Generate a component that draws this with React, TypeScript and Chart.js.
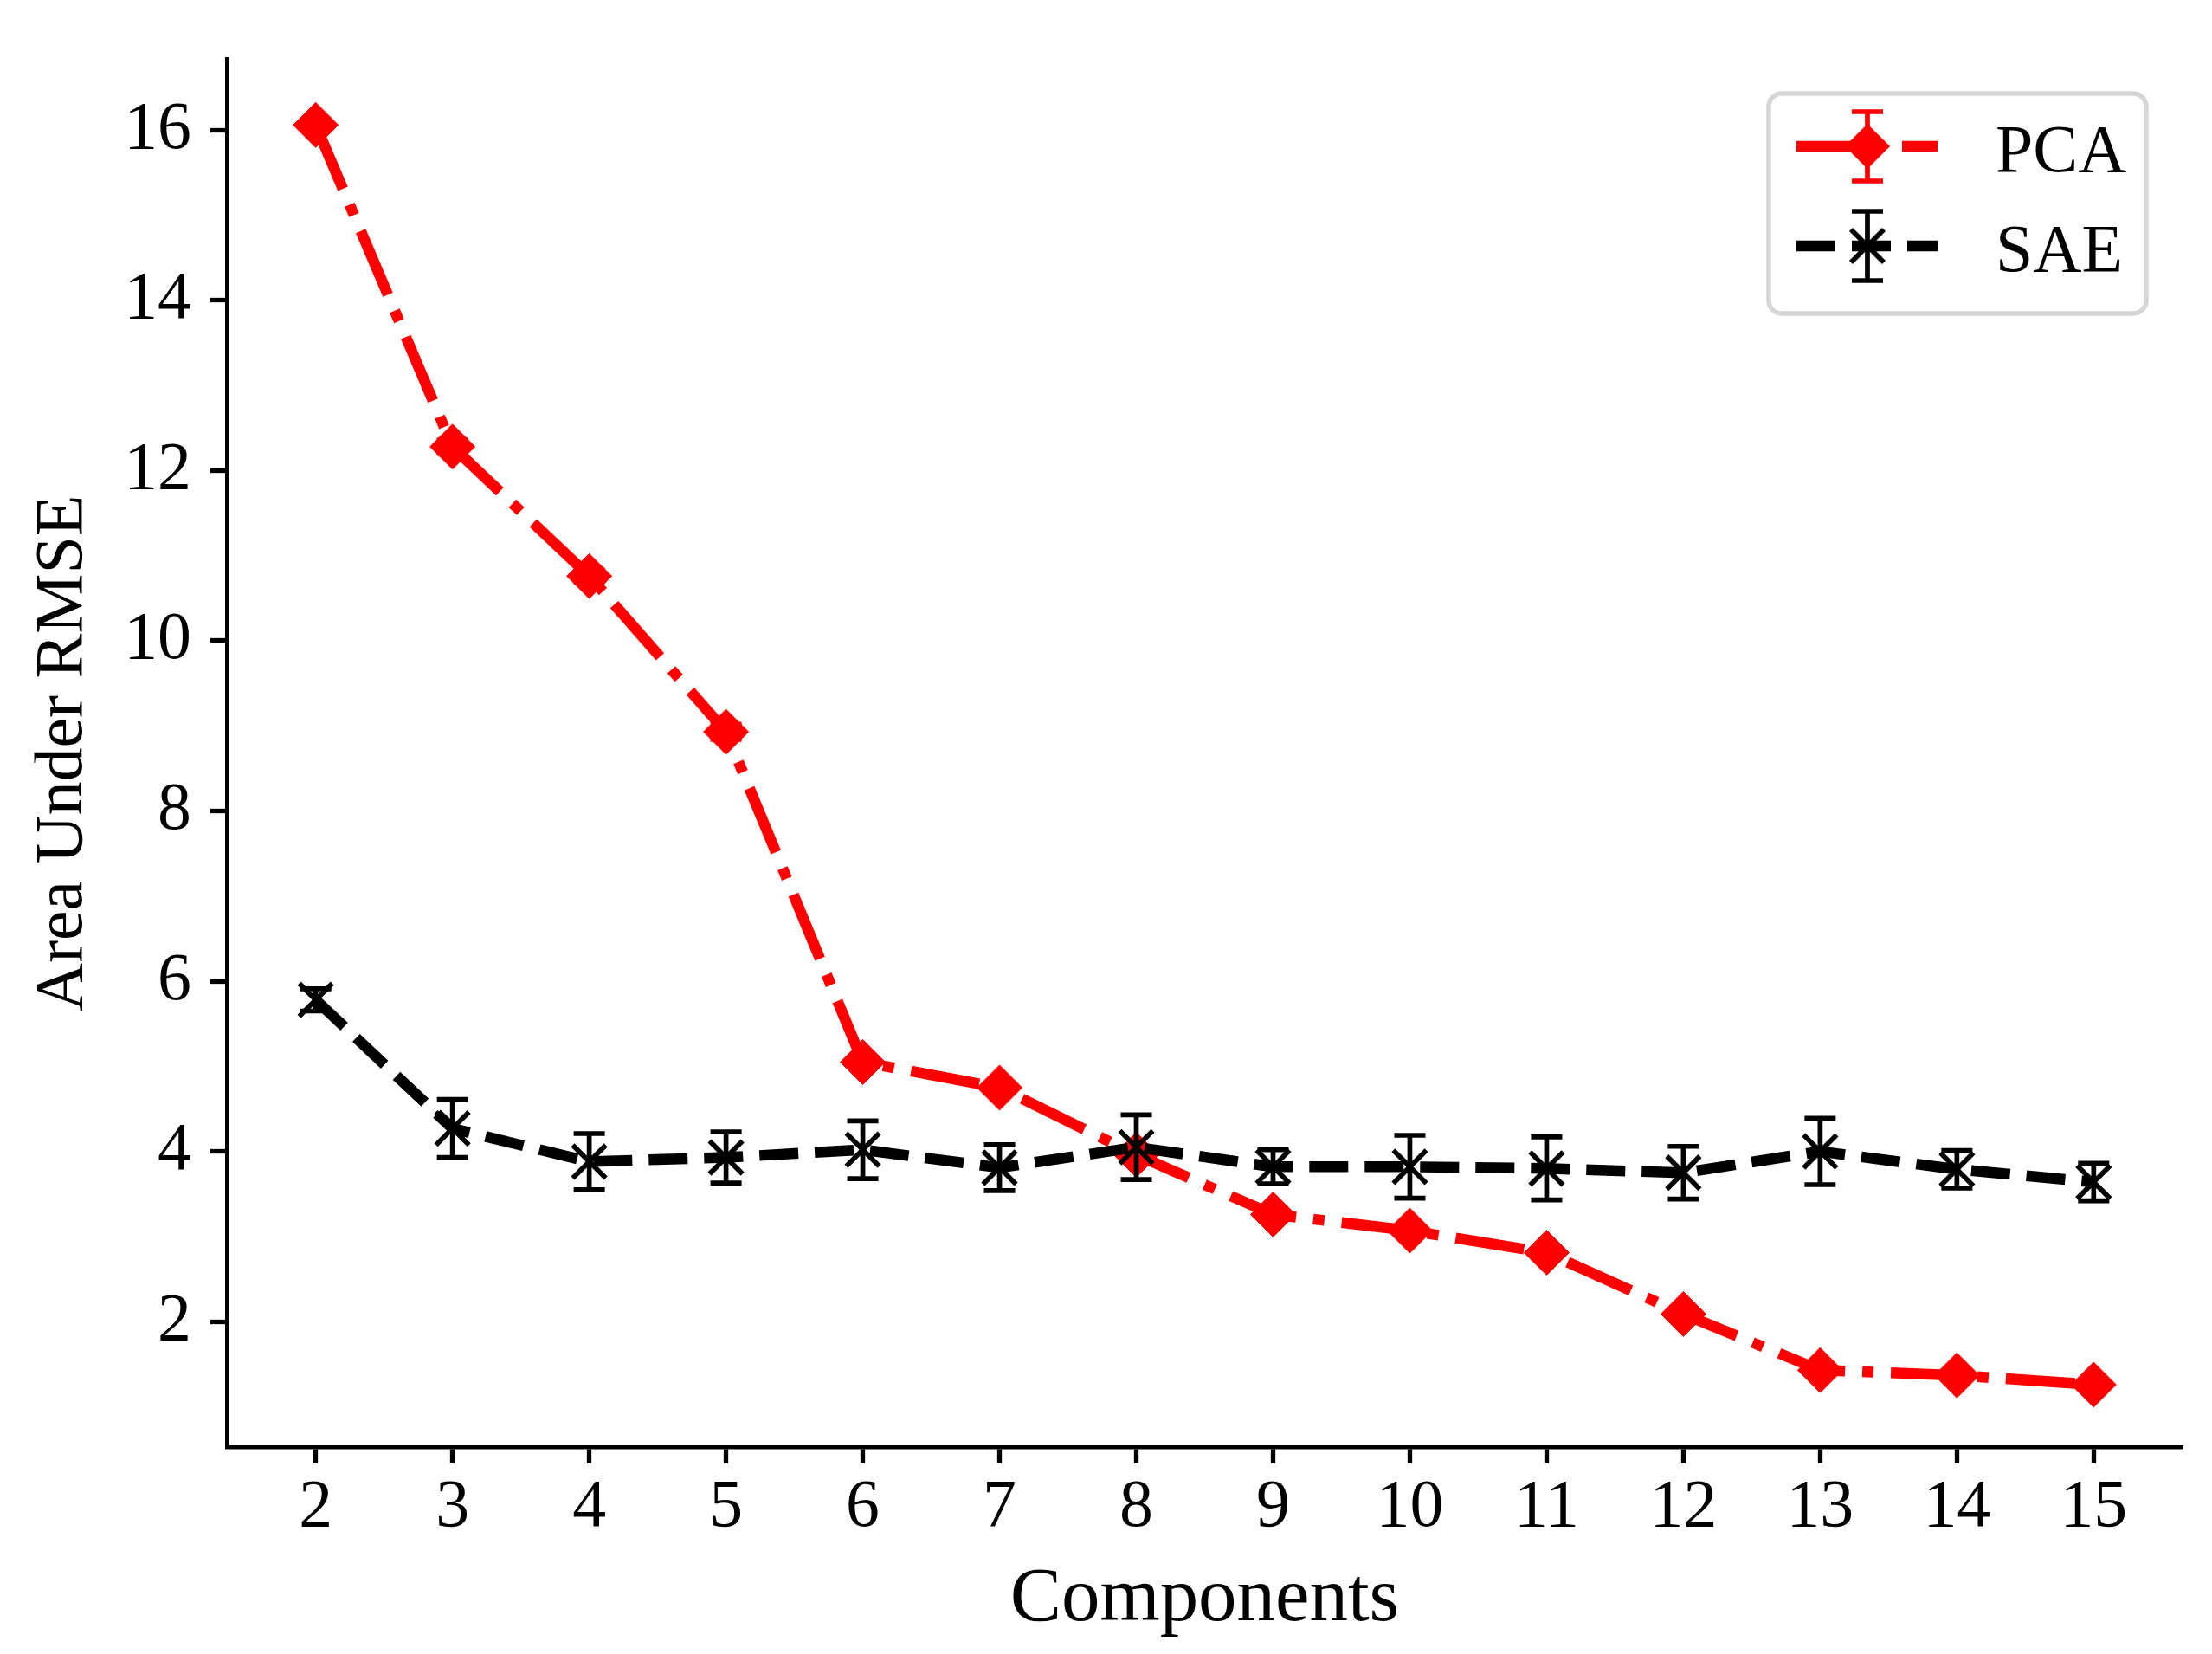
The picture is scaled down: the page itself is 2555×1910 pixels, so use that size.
import React, { useEffect, useRef } from "react";
import { Chart, registerables, ChartConfiguration, Plugin } from "chart.js";

Chart.register(...registerables);

const components = [2, 3, 4, 5, 6, 7, 8, 9, 10, 11, 12, 13, 14, 15];
const pcaValues = [16.06, 12.28, 10.76, 8.93, 5.05, 4.75, 3.96, 3.26, 3.07, 2.81, 2.09, 1.43, 1.37, 1.26];
const pcaErrors = [0.06, 0.08, 0.07, 0.09, 0.06, 0.05, 0.05, 0.05, 0.04, 0.05, 0.05, 0.04, 0.04, 0.03];
const saeValues = [5.78, 4.27, 3.88, 3.93, 4.02, 3.81, 4.05, 3.82, 3.82, 3.8, 3.75, 4.0, 3.79, 3.64];
const saeErrors = [0.13, 0.34, 0.33, 0.3, 0.34, 0.27, 0.38, 0.2, 0.37, 0.37, 0.31, 0.39, 0.22, 0.22];
const xTicks = components;
const yTicks = [2, 4, 6, 8, 10, 12, 14, 16];

const FONT = "'Liberation Serif', 'Times New Roman', serif";
const PCA_DASH = [80, 20, 13, 20];
const SAE_DASH = [45, 19];

const errorsByLabel: Record<string, number[]> = { PCA: pcaErrors, SAE: saeErrors };

// matplotlib-style error bars, drawn just before each dataset
const errorBarPlugin: Plugin = {
  id: "errorBars",
  beforeDatasetDraw(chart, args) {
    const ds: any = chart.data.datasets[args.index];
    const errs = errorsByLabel[ds.label];
    if (!errs) return;
    const { ctx } = chart;
    const x = chart.scales.x;
    const y = chart.scales.y;
    ctx.save();
    ctx.strokeStyle = ds.borderColor;
    ctx.lineWidth = 5.7;
    ctx.setLineDash([]);
    ds.data.forEach((p: { x: number; y: number }, i: number) => {
      const px = x.getPixelForValue(p.x);
      const top = y.getPixelForValue(p.y + errs[i]);
      const bot = y.getPixelForValue(p.y - errs[i]);
      ctx.beginPath();
      ctx.moveTo(px, top);
      ctx.lineTo(px, bot);
      ctx.moveTo(px - 18, top);
      ctx.lineTo(px + 18, top);
      ctx.moveTo(px - 18, bot);
      ctx.lineTo(px + 18, bot);
      ctx.stroke();
    });
    ctx.restore();
  },
};

// legend box in the upper right, like matplotlib's
const legendPlugin: Plugin = {
  id: "mplLegend",
  afterDraw(chart) {
    const { ctx } = chart;
    ctx.save();
    ctx.fillStyle = "rgba(255,255,255,0.8)";
    ctx.strokeStyle = "#d6d6d6";
    ctx.lineWidth = 5.5;
    ctx.beginPath();
    ctx.roundRect(2043, 108, 436, 254, 15);
    ctx.fill();
    ctx.stroke();

    const rows = [
      { label: "PCA", color: "#ff0000", dash: PCA_DASH, offset: 11, y: 169, style: "diamond" },
      { label: "SAE", color: "#000000", dash: SAE_DASH, offset: 0, y: 284, style: "x" },
    ];
    const x0 = 2075;
    const x1 = 2238;
    const xm = 2157;
    rows.forEach((r) => {
      ctx.strokeStyle = r.color;
      ctx.fillStyle = r.color;
      ctx.lineWidth = 12.5;
      ctx.setLineDash(r.dash);
      ctx.lineDashOffset = r.offset;
      ctx.beginPath();
      ctx.moveTo(x0, r.y);
      ctx.lineTo(x1, r.y);
      ctx.stroke();
      ctx.setLineDash([]);
      ctx.lineDashOffset = 0;
      // error bar
      ctx.lineWidth = 5.7;
      ctx.beginPath();
      ctx.moveTo(xm, r.y - 40);
      ctx.lineTo(xm, r.y + 40);
      ctx.moveTo(xm - 18, r.y - 40);
      ctx.lineTo(xm + 18, r.y - 40);
      ctx.moveTo(xm - 18, r.y + 40);
      ctx.lineTo(xm + 18, r.y + 40);
      ctx.stroke();
      if (r.style === "diamond") {
        ctx.beginPath();
        ctx.moveTo(xm, r.y - 26);
        ctx.lineTo(xm + 26, r.y);
        ctx.lineTo(xm, r.y + 26);
        ctx.lineTo(xm - 26, r.y);
        ctx.closePath();
        ctx.fill();
      } else {
        ctx.lineWidth = 5.7;
        ctx.beginPath();
        ctx.moveTo(xm - 19, r.y - 19);
        ctx.lineTo(xm + 19, r.y + 19);
        ctx.moveTo(xm - 19, r.y + 19);
        ctx.lineTo(xm + 19, r.y - 19);
        ctx.stroke();
      }
      ctx.fillStyle = "#000";
      ctx.font = `77.8px ${FONT}`;
      ctx.textBaseline = "alphabetic";
      ctx.textAlign = "left";
      ctx.fillText(r.label, 2305, r.y + 28.5);
    });
    ctx.restore();
  },
};

const ErrorLineChart: React.FC = () => {
  const chartRef = useRef<HTMLCanvasElement>(null);
  const chartInstance = useRef<Chart | null>(null);

  useEffect(() => {
    if (!chartRef.current) return;
    if (chartInstance.current) chartInstance.current.destroy();
    const ctx = chartRef.current.getContext("2d");
    if (!ctx) return;

    const config: ChartConfiguration = {
      type: "line",
      data: {
        datasets: [
          {
            label: "PCA",
            data: components.map((c, i) => ({ x: c, y: pcaValues[i] })),
            borderColor: "#ff0000",
            backgroundColor: "#ff0000",
            borderWidth: 12.5,
            borderDash: PCA_DASH,
            borderJoinStyle: "round",
            pointStyle: "rectRot",
            pointRadius: 26,
            pointBorderWidth: 1,
            pointBackgroundColor: "#ff0000",
            pointBorderColor: "#ff0000",
            tension: 0,
            order: 1,
          },
          {
            label: "SAE",
            data: components.map((c, i) => ({ x: c, y: saeValues[i] })),
            borderColor: "#000000",
            backgroundColor: "#000000",
            borderWidth: 12.5,
            borderDash: SAE_DASH,
            borderJoinStyle: "round",
            pointStyle: "crossRot",
            pointRadius: 27,
            pointBorderWidth: 5.7,
            pointBorderColor: "#000000",
            tension: 0,
            order: 0,
          },
        ],
      },
      options: {
        animation: false,
        responsive: false,
        devicePixelRatio: 1,
        layout: { padding: { left: 0, top: 65, right: 34, bottom: 0 } },
        plugins: {
          legend: { display: false },
          tooltip: { enabled: false },
        },
        scales: {
          x: {
            type: "linear",
            min: 1.35,
            max: 15.65,
            afterBuildTicks: (s: any) => {
              s.ticks = xTicks.map((v) => ({ value: v }));
            },
            afterFit: (s: any) => {
              s.height = 239;
            },
            grid: {
              display: true,
              drawOnChartArea: false,
              drawTicks: true,
              tickLength: 19,
              tickWidth: 5.3,
              tickColor: "#000",
            },
            border: { display: true, color: "#000", width: 4.5 },
            ticks: {
              color: "#000",
              font: { family: FONT, size: 77.8 },
              padding: 5,
              maxRotation: 0,
              autoSkip: false,
            },
            title: {
              display: true,
              text: "Components",
              color: "#000",
              font: { family: FONT, size: 88.9 },
              padding: { top: 0, bottom: 9 },
            },
          },
          y: {
            type: "linear",
            min: 0.527,
            max: 16.83,
            afterBuildTicks: (s: any) => {
              s.ticks = yTicks.map((v) => ({ value: v }));
            },
            afterFit: (s: any) => {
              s.width = 262;
            },
            grid: {
              display: true,
              drawOnChartArea: false,
              drawTicks: true,
              tickLength: 19,
              tickWidth: 5.3,
              tickColor: "#000",
            },
            border: { display: true, color: "#000", width: 4.5 },
            ticks: {
              color: "#000",
              font: { family: FONT, size: 77.8 },
              padding: 22,
              autoSkip: false,
            },
            title: {
              display: true,
              text: "Area Under RMSE",
              color: "#000",
              font: { family: FONT, size: 77.8 },
              padding: { top: 27, bottom: 0 },
            },
          },
        },
      },
      plugins: [errorBarPlugin, legendPlugin],
    };

    chartInstance.current = new Chart(ctx, config);

    return () => {
      if (chartInstance.current) {
        chartInstance.current.destroy();
        chartInstance.current = null;
      }
    };
  }, []);

  return (
    <div style={{ position: "absolute", left: 0, top: 0, width: 2555, height: 1910, background: "#fff" }}>
      <canvas ref={chartRef} width={2555} height={1910} style={{ width: 2555, height: 1910 }} />
    </div>
  );
};

export default function App() {
  return <ErrorLineChart />;
}
